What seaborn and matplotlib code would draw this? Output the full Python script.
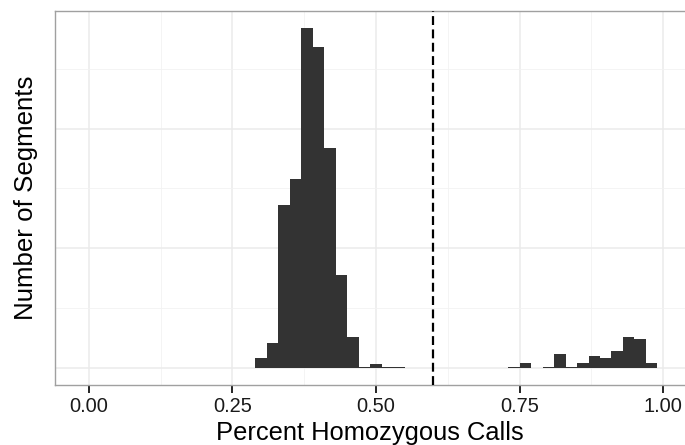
import numpy as np
import pandas as pd
import matplotlib
matplotlib.use("Agg")
import matplotlib.pyplot as plt
from matplotlib.ticker import MultipleLocator, NullFormatter
import seaborn as sns

# Histogram counts per 0.02-wide bin, starting at 0.29
bin_width = 0.02
first_edge = 0.29
segment_counts = [8, 21, 136, 158, 284, 268, 184, 78, 26, 1, 3, 1, 1,
                  0, 0, 0, 0, 0, 0, 0, 0, 0,
                  1, 4, 0, 1, 12, 1, 4, 10, 8, 14, 26, 24, 4]
cutoff = 0.6
x_ticks = [0.00, 0.25, 0.50, 0.75, 1.00]
x_tick_labels = ["0.00", "0.25", "0.50", "0.75", "1.00"]

n_bins = len(segment_counts)
edges = first_edge + bin_width * np.arange(n_bins + 1)
centers = (edges[:-1] + edges[1:]) / 2
df = pd.DataFrame({"pct_hom": centers, "n": segment_counts})

sns.set_style("white")
plt.rcParams["font.family"] = ["Liberation Sans", "DejaVu Sans"]

fig = plt.figure(figsize=(6.85, 4.45), dpi=100)
ax = fig.add_axes([55 / 685, (445 - 385) / 445, (685 - 55) / 685, (385 - 11) / 445])

sns.histplot(data=df, x="pct_hom", weights="n", bins=[float(e) for e in edges],
             ax=ax, color="#333333", alpha=1, linewidth=0, edgecolor="none")

ax.axvline(cutoff, color="black", lw=1.6, dashes=(4.0, 2.0), zorder=3)

ymax = max(segment_counts)
ax.set_ylim(-0.05 * ymax, 1.05 * ymax)
ax.set_xlim(-0.059, 1.038)

# grid: major and minor, light grey, behind bars
ax.set_xticks(x_ticks)
ax.set_xticklabels(x_tick_labels)
ax.xaxis.set_minor_locator(MultipleLocator(0.125))
ax.yaxis.set_major_locator(MultipleLocator(100))
ax.yaxis.set_minor_locator(MultipleLocator(50))
ax.yaxis.set_major_formatter(NullFormatter())
ax.set_axisbelow(True)
ax.grid(which="major", color="#EBEBEB", lw=1.1)
ax.grid(which="minor", color="#F2F2F2", lw=0.6)

ax.tick_params(axis="x", which="major", length=6, width=1.2, color="black",
               labelsize=14.4, labelcolor="#1a1a1a", pad=3.0, bottom=True)
ax.tick_params(axis="x", which="minor", length=0)
ax.tick_params(axis="y", which="both", length=0, left=False, labelleft=False)

for side in ["left", "bottom", "top"]:
    ax.spines[side].set_color("#A0A0A0")
    ax.spines[side].set_linewidth(1.0)
ax.spines["right"].set_visible(False)

ax.set_xlabel("Percent Homozygous Calls", fontsize=18.4, color="black", labelpad=3)
ax.set_ylabel("Number of Segments", fontsize=18.6, color="black", labelpad=12)

fig.savefig("out.png", dpi=100)
